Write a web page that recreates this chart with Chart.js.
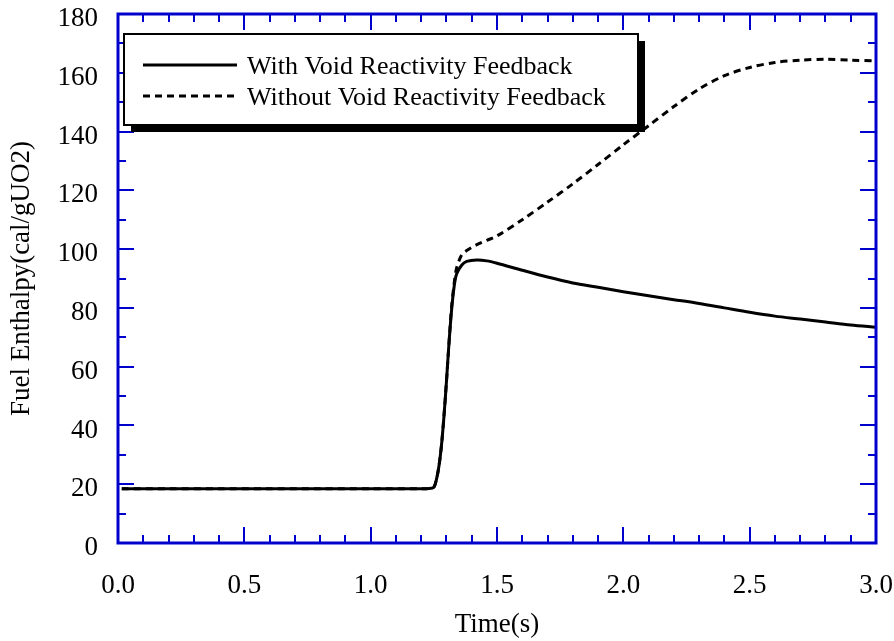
<!DOCTYPE html>
<html lang="en">
<head>
    <meta charset="UTF-8">
    <title>Fuel Enthalpy</title>
    <script src="https://cdn.jsdelivr.net/npm/chart.js"></script>
    <style>
        body { margin: 0; background: #fff; }
        #wrap { width: 894px; height: 641px; }
    </style>
</head>
<body>
<div id="wrap"><canvas id="enthalpyChart"></canvas></div>
<script>
// datos
const times = [0.015, 0.2, 0.4, 0.6, 0.8, 1.0, 1.2, 1.23, 1.25, 1.26, 1.27, 1.28, 1.29, 1.30, 1.31, 1.32, 1.33, 1.34, 1.36, 1.38, 1.42, 1.46,
    1.5, 1.6, 1.7, 1.8, 1.9, 2.0, 2.1, 2.2, 2.3, 2.4, 2.5, 2.6, 2.7, 2.8, 2.9, 3.0];
const withVoid = [18.5, 18.5, 18.5, 18.5, 18.5, 18.5, 18.5, 18.5, 19, 21.5, 26, 33, 43, 55, 68, 79, 87, 91.5, 94.5, 95.8, 96.3, 96,
    95.2, 92.8, 90.5, 88.5, 87, 85.5, 84.1, 82.8, 81.5, 80, 78.5, 77.2, 76.2, 75.2, 74.2, 73.4];
const withoutVoid = [18.5, 18.5, 18.5, 18.5, 18.5, 18.5, 18.5, 18.5, 19, 21.5, 26, 33, 43, 55, 68, 80, 88, 93.5, 98, 99.5, 101.5, 103,
    104.5, 110, 116, 122.2, 128.8, 135.5, 142, 148.5, 154.5, 159, 161.8, 163.5, 164.3, 164.6, 164.3, 164];
const seriesNames = ['With Void Reactivity Feedback', 'Without Void Reactivity Feedback'];
const xTickValues = [0, 0.5, 1.0, 1.5, 2.0, 2.5, 3.0];
const yTickValues = [0, 20, 40, 60, 80, 100, 120, 140, 160, 180];

const FONT = "'Liberation Serif', 'Times New Roman', serif";
const BLUE = '#0000cc';

function pts(ys) {
    return times.map((t, i) => ({ x: t, y: ys[i] }));
}

// marco azul con marcas hacia dentro
const framePlugin = {
    id: 'frame',
    afterDatasetsDraw(chart) {
        const { ctx, chartArea: a, scales } = chart;
        const xs = scales.x, ys = scales.y;
        ctx.save();
        ctx.strokeStyle = BLUE;
        ctx.lineWidth = 2;
        ctx.beginPath();
        for (let i = 0; i <= 30; i++) {
            const px = Math.round(xs.getPixelForValue(i / 10));
            const len = (i % 5 === 0) ? 16 : 8;
            ctx.moveTo(px, a.bottom); ctx.lineTo(px, a.bottom - len);
            ctx.moveTo(px, a.top); ctx.lineTo(px, a.top + len);
        }
        for (let v = 0; v <= 180; v += 10) {
            const py = Math.round(ys.getPixelForValue(v));
            const len = (v % 20 === 0) ? 16 : 8;
            ctx.moveTo(a.left, py); ctx.lineTo(a.left + len, py);
            ctx.moveTo(a.right, py); ctx.lineTo(a.right - len, py);
        }
        ctx.stroke();
        ctx.lineWidth = 3;
        ctx.strokeRect(a.left, a.top, a.right - a.left, a.bottom - a.top);
        ctx.restore();
    }
};

// leyenda con sombra
const legendPlugin = {
    id: 'boxLegend',
    afterDraw(chart) {
        const { ctx, chartArea: a } = chart;
        const x = a.left + 6, y = a.top + 20, w = 514, h = 91;
        ctx.save();
        ctx.fillStyle = '#000';
        ctx.fillRect(x + 7, y + 7, w, h);
        ctx.fillStyle = '#fff';
        ctx.fillRect(x, y, w, h);
        ctx.strokeStyle = '#000';
        ctx.lineWidth = 2;
        ctx.strokeRect(x, y, w, h);

        ctx.lineWidth = 3;
        ctx.beginPath();
        ctx.moveTo(x + 19, y + 31); ctx.lineTo(x + 113, y + 31);
        ctx.stroke();
        ctx.setLineDash([7, 5]);
        ctx.beginPath();
        ctx.moveTo(x + 19, y + 62); ctx.lineTo(x + 113, y + 62);
        ctx.stroke();
        ctx.setLineDash([]);

        ctx.font = '26px ' + FONT;
        ctx.fillStyle = '#000';
        ctx.textBaseline = 'alphabetic';
        ctx.fillText(seriesNames[0], x + 123, y + 40);
        ctx.fillText(seriesNames[1], x + 123, y + 71);
        ctx.restore();
    }
};

window.onload = function () {
    const ctx = document.getElementById('enthalpyChart').getContext('2d');
    new Chart(ctx, {
        type: 'line',
        data: {
            datasets: [{
                label: seriesNames[0],
                data: pts(withVoid),
                borderColor: '#000',
                borderWidth: 3,
                pointRadius: 0,
                tension: 0.3,
                fill: false
            }, {
                label: seriesNames[1],
                data: pts(withoutVoid),
                borderColor: '#000',
                borderWidth: 3,
                borderDash: [7, 5],
                pointRadius: 0,
                tension: 0.3,
                fill: false
            }]
        },
        plugins: [framePlugin, legendPlugin],
        options: {
            responsive: true,
            maintainAspectRatio: false,
            animation: false,
            layout: { padding: { top: 14, right: 18, left: 0, bottom: 0 } },
            plugins: { legend: { display: false }, tooltip: { enabled: false } },
            scales: {
                x: {
                    type: 'linear',
                    min: 0,
                    max: 3,
                    afterFit(scale) {
                        scale.height = 98;
                        scale.paddingLeft = 0;
                        scale.paddingRight = 0;
                    },
                    afterBuildTicks(scale) { scale.ticks = xTickValues.map(v => ({ value: v })); },
                    grid: { display: false, drawTicks: false },
                    border: { display: false },
                    ticks: {
                        padding: 27,
                        color: '#000',
                        font: { family: FONT, size: 27 },
                        maxRotation: 0,
                        callback: v => v.toFixed(1)
                    },
                    title: {
                        display: true,
                        text: 'Time(s)',
                        color: '#000',
                        font: { family: FONT, size: 27 },
                        padding: { top: 0, bottom: 0 }
                    }
                },
                y: {
                    min: 0,
                    max: 180,
                    afterFit(scale) {
                        scale.width = 118;
                        scale.paddingTop = 0;
                        scale.paddingBottom = 0;
                    },
                    afterBuildTicks(scale) { scale.ticks = yTickValues.map(v => ({ value: v })); },
                    grid: { display: false, drawTicks: false },
                    border: { display: false },
                    ticks: {
                        padding: 20,
                        labelOffset: 5,
                        color: '#000',
                        font: { family: FONT, size: 27 }
                    },
                    title: {
                        display: true,
                        text: 'Fuel Enthalpy(cal/gUO2)',
                        color: '#000',
                        font: { family: FONT, size: 27 },
                        padding: { top: 6, bottom: 0 }
                    }
                }
            }
        }
    });
};
</script>
</body>
</html>
